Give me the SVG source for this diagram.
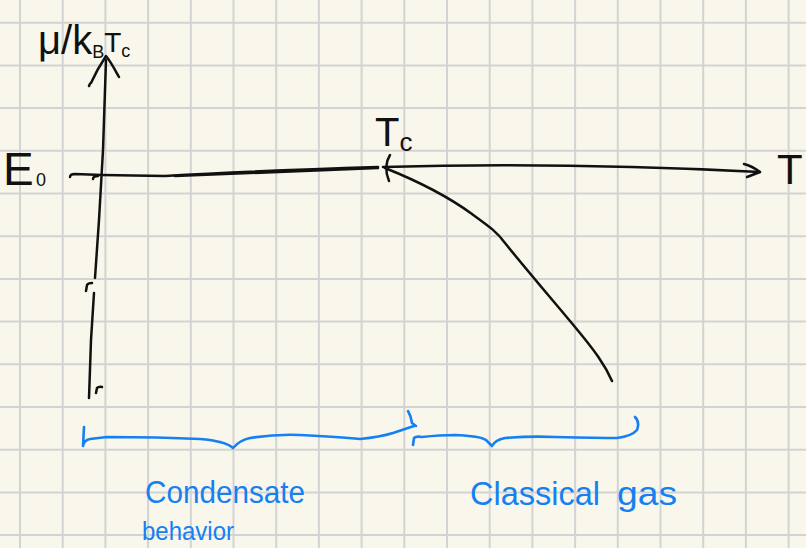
<svg xmlns="http://www.w3.org/2000/svg" width="806" height="548" viewBox="0 0 806 548">
  <defs>
    <style>
      .grid { stroke: #d3d3d3; stroke-width: 2; fill: none; }
      .ink { stroke: #111; stroke-width: 2.5; fill: none; stroke-linecap: round; stroke-linejoin: round; }
      .blue { stroke: #1580f2; stroke-width: 2.6; fill: none; stroke-linecap: round; stroke-linejoin: round; }
      .lbl { font-family: "Liberation Sans", "DejaVu Sans", sans-serif; fill: #111; }
      .blbl { font-family: "Liberation Sans", "DejaVu Sans", sans-serif; fill: #1580f2; }
    </style>
  </defs>
  <rect x="0" y="0" width="806" height="548" fill="#f9f7eb"/>
  <g id="grid" class="grid">
    <path d="M20,0V548 M62.7,0V548 M105.4,0V548 M148.1,0V548 M190.8,0V548 M233.5,0V548 M276.2,0V548 M318.9,0V548 M361.6,0V548 M404.3,0V548 M447,0V548 M489.7,0V548 M532.4,0V548 M575.1,0V548 M617.8,0V548 M660.5,0V548 M703.2,0V548 M745.9,0V548 M788.6,0V548"/>
    <path d="M0,22.7H806 M0,65.4H806 M0,108.1H806 M0,150.8H806 M0,193.5H806 M0,236.2H806 M0,278.9H806 M0,321.6H806 M0,364.3H806 M0,407H806 M0,449.7H806 M0,492.4H806 M0,535.1H806"/>
  </g>
  <g id="axes">
    <g id="y-axis" class="ink">
      <path d="M106,60 L103,150 L99,220 L95,278"/>
      <path d="M89,86 Q90,83 91,83 C95,74 100,65 106,56 C111,62 115,70 119,77"/>
      <path d="M86,291 L87,285 Q88,283 92,283"/>
      <path d="M94,293 L91,340 L89,398"/>
      <path d="M96,393 L97,388 Q99,386 102,387"/>
    </g>
    <g id="x-axis" class="ink">
      <path d="M70,177 Q70,174 75,174 L102,175 L165,176 Q250,171 378,167"/>
      <path d="M175,176 Q260,173 378,168"/>
      <path d="M93,179 Q93,176 98,176"/>
      <path d="M383,167 Q560,162 760,172"/>
      <path d="M744,164 Q752,166 760,172 L747,177"/>
    </g>
  </g>
  <g id="curve" class="ink">
    <path d="M390,155 Q383,166 389,181"/>
    <path d="M385,168 C420,182 450,198 472,214 C490,227 497,232 505,243 C525,268 550,297 575,327 C595,351 605,365 612,381"/>
  </g>
  <g id="labels">
    <text class="lbl" x="38" y="54" font-size="40">μ/k<tspan font-size="18" dy="4">B</tspan><tspan font-size="28" dy="-6">T</tspan><tspan font-size="18" dy="5">c</tspan></text>
    <text class="lbl" x="3" y="185" font-size="46">E</text>
    <text class="lbl" x="36" y="186" font-size="18">0</text>
    <text class="lbl" x="375" y="146" font-size="40">T<tspan font-size="26" dy="5">c</tspan></text>
    <text class="lbl" x="777" y="184" font-size="42">T</text>
  </g>
  <g id="braces" class="blue">
    <path d="M84,427 L83,446 Q84,440 90,439 L107,437 Q160,437 200,439 Q225,441 233,448 Q240,440 250,438 Q275,434 300,435 Q340,437 360,439 Q380,437 393,433 L414,426"/>
    <path d="M408,411 Q411,416 412,423 L416,426"/>
    <path d="M413,445 L414,438 Q416,436 422,437 Q440,435 455,435 Q480,436 486,440 L492,446 Q495,440 505,438 Q530,436 555,437 Q600,438 617,438 Q632,436 637,430 Q640,422 635,417"/>
  </g>
  <g id="annotations">
    <text class="blbl" x="145" y="503" font-size="32" textLength="160" lengthAdjust="spacingAndGlyphs">Condensate</text>
    <text class="blbl" x="142" y="540" font-size="26" textLength="92" lengthAdjust="spacingAndGlyphs">behavior</text>
    <text class="blbl" x="470" y="505" font-size="33" textLength="130" lengthAdjust="spacingAndGlyphs">Classical</text>
    <text class="blbl" x="617" y="505" font-size="34" textLength="60" lengthAdjust="spacingAndGlyphs">gas</text>
  </g>
</svg>
